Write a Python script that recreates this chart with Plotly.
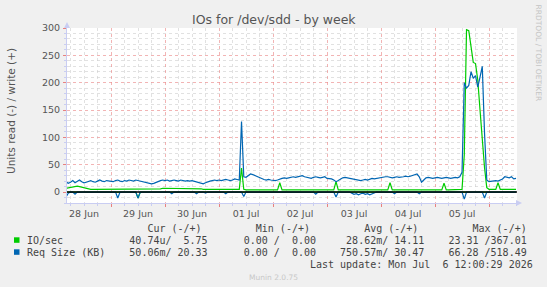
import plotly.graph_objects as go
import pandas as pd

# ---------------- DATA (hourly samples, starting 28 Jun 2026 04:00) ----------------
start_time = "2026-06-28 04:00"

# IO/sec write (+), green
io_write = [
    7, 8, 8, 9, 10, 11, 10, 9, 7, 6, 6, 5, 5, 5, 5, 5, 5, 5, 5, 5,                    # 28 Jun 04-23
    5, 5, 5, 5, 5, 5, 5, 5, 5, 5, 5, 5, 5, 5, 5, 5, 5, 5, 5, 5, 6, 6, 6, 7,            # 29 Jun
    7, 7, 7, 7, 7, 7, 7, 7, 7, 7, 7, 6, 6, 6, 6, 6, 6, 5, 5, 5, 5, 5, 5, 5,            # 30 Jun
    5, 5, 5, 5, 5, 5, 5, 5, 5, 5, 44, 5, 4, 4, 4, 4, 4, 4, 4, 4, 4, 4, 4, 4,           # 01 Jul
    4, 4, 4, 17, 4, 4, 4, 4, 4, 4, 4, 4, 4, 4, 4, 4, 4, 4, 4, 4, 4, 4, 4, 4,           # 02 Jul
    4, 4, 4, 4, 19, 4, 4, 4, 4, 4, 4, 4, 4, 4, 4, 4, 4, 4, 4, 4, 4, 4, 4, 4,           # 03 Jul
    4, 4, 4, 4, 17, 4, 4, 4, 4, 4, 4, 4, 4, 4, 4, 4, 4, 4, 4, 4, 4, 4, 4, 4,           # 04 Jul
    4, 4, 4, 4, 16, 4, 4, 4, 4, 4, 4, 4, 5, 68, 297, 295, 262, 237, 235, 205, 150, 95, 45, 8,  # 05 Jul
    5, 5, 5, 5, 17, 5, 5, 5, 5, 5, 5, 5, 5,                                            # 06 Jul 00-12
]
# IO/sec read (-), green (stored as magnitude)
io_read = [
    0, 0, 0, 0, 0, 0, 0, 0, 0, 0, 0, 0, 0, 0, 0, 0, 0, 0, 0, 0,
    0, 0, 0, 0, 0, 0, 0, 0, 0, 0, 0, 0, 11, 0, 0, 0, 0, 0, 0, 0, 0, 0, 0, 0,
    0, 0, 0, 0, 0, 0, 0, 0, 0, 0, 0, 0, 0, 0, 0, 0, 0, 0, 0, 0, 0, 0, 0, 0,
    0, 0, 0, 0, 0, 0, 0, 0, 0, 0, 0, 0, 0, 0, 0, 0, 0, 0, 0, 0, 0, 0, 0, 0,
    0, 0, 0, 0, 0, 0, 0, 0, 0, 0, 0, 0, 0, 0, 0, 0, 0, 0, 0, 0, 0, 0, 0, 0,
    0, 0, 0, 0, 0, 0, 0, 0, 0, 0, 0, 0, 0, 0, 0, 0, 0, 0, 0, 0, 0, 0, 0, 0,
    0, 0, 0, 0, 0, 0, 0, 0, 0, 0, 0, 0, 0, 0, 0, 0, 0, 0, 0, 0, 0, 0, 0, 0,
    0, 0, 0, 0, 0, 0, 0, 0, 0, 0, 0, 0, 0, 0, 0, 0, 0, 0, 0, 0, 0, 0, 0, 0,
    0, 0, 0, 0, 0, 0, 0, 0, 0, 0, 0, 0, 0,
]
# Req Size (KB) write (+), blue
sz_write = [
    19, 16, 18, 21, 17, 20, 22, 19, 17, 18, 20, 21, 19, 18, 20, 22, 20, 19, 21, 20,
    20, 19, 21, 22, 20, 19, 21, 20, 22, 21, 20, 22, 21, 20, 19, 17, 16, 15, 15, 16, 18, 20, 21, 22,
    21, 22, 20, 21, 22, 21, 20, 22, 21, 20, 21, 20, 21, 20, 19, 18, 16, 15, 17, 19, 20, 21, 22, 21,
    22, 21, 22, 23, 22, 21, 22, 24, 23, 22, 129, 28, 27, 30, 33, 32, 30, 28, 26, 24, 23, 22, 23, 22,
    21, 21, 22, 24, 25, 26, 25, 26, 27, 28, 27, 28, 29, 30, 28, 27, 26, 25, 27, 28, 27, 26, 27, 28,
    25, 25, 24, 22, 19, 21, 24, 26, 27, 26, 25, 24, 23, 22, 22, 21, 22, 23, 22, 24, 25, 24, 25, 26,
    26, 27, 28, 28, 27, 26, 27, 28, 27, 27, 28, 29, 28, 29, 30, 31, 33, 28, 18, 22, 26, 27, 26, 25,
    26, 27, 26, 25, 26, 27, 26, 25, 26, 27, 26, 28, 36, 200, 190, 195, 220, 208, 213, 192, 210, 230, 108, 22,
    19, 20, 20, 21, 20, 22, 24, 28, 27, 26, 28, 24, 25,
]
# Req Size (KB) read (-), blue (stored as magnitude)
sz_read = [
    9, 2, 0, 0, 4, 0, 0, 0, 0, 0, 0, 0, 0, 0, 0, 0, 0, 0, 0, 0,
    0, 0, 0, 11, 0, 0, 0, 0, 0, 0, 0, 0, 11, 0, 0, 0, 0, 0, 0, 0, 0, 0, 0, 0,
    0, 0, 0, 3, 0, 0, 0, 0, 0, 0, 0, 0, 0, 0, 3, 0, 0, 0, 2, 0, 0, 0, 0, 0,
    0, 0, 0, 3, 0, 0, 0, 0, 0, 0, 0, 8, 0, 0, 0, 0, 0, 0, 0, 0, 0, 0, 0, 0,
    0, 0, 0, 0, 0, 0, 0, 0, 0, 0, 0, 0, 0, 0, 0, 0, 0, 0, 0, 4, 0, 0, 0, 0,
    0, 0, 0, 0, 9, 0, 0, 0, 0, 0, 0, 2, 4, 3, 5, 3, 2, 4, 3, 5, 3, 2, 0, 0,
    0, 0, 0, 0, 0, 0, 3, 0, 0, 0, 0, 0, 0, 0, 0, 0, 0, 3, 0, 0, 0, 0, 0, 0,
    0, 0, 0, 0, 0, 0, 0, 0, 0, 0, 0, 0, 0, 13, 0, 0, 0, 0, 0, 0, 0, 0, 11, 0,
    0, 0, 0, 0, 0, 0, 0, 0, 0, 0, 0, 0, 0,
]

series_names = ["IO/sec", "Req Size (KB)"]
series_colors = ["#00CC00", "#0066B3"]
stat_headers = ["Cur (-/+)", "Min (-/+)", "Avg (-/+)", "Max (-/+)"]
stats_io = ["40.74u/  5.75", "0.00 /  0.00", "28.62m/ 14.11", "23.31 /367.01"]
stats_sz = ["50.06m/ 20.33", "0.00 /  0.00", "750.57m/ 30.47", "66.28 /518.49"]
last_update = "Last update: Mon Jul  6 12:00:29 2026"

day_labels = ["28 Jun", "29 Jun", "30 Jun", "01 Jul", "02 Jul", "03 Jul", "04 Jul", "05 Jul"]
day_label_pos = ["2026-06-28 12:00", "2026-06-29 12:00", "2026-06-30 12:00", "2026-07-01 12:00",
                 "2026-07-02 12:00", "2026-07-03 12:00", "2026-07-04 12:00", "2026-07-05 12:00"]
x_range = ["2026-06-28 04:26", "2026-07-06 12:26"]

# ---------------- LAYOUT GEOMETRY ----------------
W, H = 547, 287
L, R, T, B = 67, 30, 28, 84
PW, PH = W - L - R, H - T - B


def fx(px):
    return (px - L) / PW


def fy(py):
    return (H - B - py) / PH


times = pd.date_range(start_time, periods=len(io_write), freq="h")

fig = go.Figure()
neg = lambda a: [-v for v in a]
for name, color, pos, negv in [
    (series_names[0], series_colors[0], io_write, io_read),
    (series_names[1], series_colors[1], sz_write, sz_read),
]:
    fig.add_trace(go.Scatter(x=times, y=neg(negv), mode="lines", line=dict(color=color, width=1.2),
                             showlegend=False, hoverinfo="skip"))
    fig.add_trace(go.Scatter(x=times, y=pos, mode="lines", line=dict(color=color, width=1.2),
                             showlegend=False, hoverinfo="skip"))

# dummy trace for label axis
fig.add_trace(go.Scatter(x=day_label_pos, y=[None] * len(day_label_pos), xaxis="x2",
                         mode="lines", showlegend=False, hoverinfo="skip"))

AXIS_COL = "#C9CDF2"
MAJ_GRID = "rgba(235,140,140,0.65)"
MIN_GRID = "rgba(205,205,205,0.6)"
TXT = "#555555"
FONT = "DejaVu Sans"
MONO = "DejaVu Sans Mono"

fig.update_layout(
    width=W, height=H,
    margin=dict(l=L, r=R, t=T, b=B, pad=0),
    paper_bgcolor="#F0F0F0",
    plot_bgcolor="#FFFFFF",
    font=dict(family=FONT, size=10, color=TXT),
    xaxis=dict(
        type="date", range=x_range, tick0="2026-06-28", dtick=86400000,
        showticklabels=False, showgrid=True, gridcolor=MAJ_GRID, griddash="dot", gridwidth=1,
        ticks="outside", ticklen=3, tickcolor="#E88080",
        showline=True, linecolor=AXIS_COL, linewidth=1, zeroline=False,
        minor=dict(tick0="2026-06-28", dtick=6 * 3600000, showgrid=True, gridcolor=MIN_GRID,
                   griddash="dot", gridwidth=1, ticks="outside", ticklen=2, tickcolor=AXIS_COL),
    ),
    xaxis2=dict(
        type="date", overlaying="x", anchor="y", side="bottom", range=x_range,
        tickmode="array", tickvals=day_label_pos, ticktext=day_labels,
        showgrid=False, ticks="", showline=False, zeroline=False,
        tickfont=dict(family=FONT, size=9.5, color=TXT), ticklabelstandoff=3,
    ),
    yaxis=dict(
        range=[-20, 300], tick0=0, dtick=50,
        showgrid=True, gridcolor=MAJ_GRID, griddash="dot", gridwidth=1,
        ticks="outside", ticklen=3, tickcolor="#E88080",
        showline=True, linecolor=AXIS_COL, linewidth=1, zeroline=False,
        tickfont=dict(family=FONT, size=9.5, color=TXT), ticklabelstandoff=1,
        minor=dict(tick0=0, dtick=10, showgrid=True, gridcolor=MIN_GRID, griddash="dot",
                   gridwidth=1, ticks="outside", ticklen=2, tickcolor=AXIS_COL),
    ),
)

shapes = [
    # black zero line on top
    dict(type="line", xref="paper", yref="y", x0=0, x1=1, y0=0, y1=0,
         line=dict(color="#000000", width=1.5), layer="above"),
    # axis arrows
    dict(type="path", xref="paper", yref="paper",
         path=f"M {fx(516)} {fy(200)} L {fx(522)} {fy(203)} L {fx(516)} {fy(206)} Z",
         fillcolor=AXIS_COL, line=dict(width=0)),
    dict(type="path", xref="paper", yref="paper",
         path=f"M {fx(64)} {fy(28)} L {fx(67)} {fy(22)} L {fx(70)} {fy(28)} Z",
         fillcolor=AXIS_COL, line=dict(width=0)),
]
# legend colour boxes
for i, c in enumerate(series_colors):
    y0 = 237.3 + i * 12
    shapes.append(dict(type="rect", xref="paper", yref="paper",
                       x0=fx(14), x1=fx(19.5), y0=fy(y0), y1=fy(y0 + 5.5),
                       fillcolor=c, line=dict(width=0)))
fig.update_layout(shapes=shapes)

nb = lambda s: s.replace(" ", "\u00a0")
header = " " * 20 + "".join(h.ljust(18) for h in stat_headers[:3]) + stat_headers[3]
row1 = series_names[0].ljust(17) + stats_io[0].ljust(19) + stats_io[1].ljust(17) + stats_io[2].ljust(17) + stats_io[3]
row2 = series_names[1].ljust(17) + stats_sz[0].ljust(19) + stats_sz[1].ljust(16) + stats_sz[2].ljust(18) + stats_sz[3]
row3 = " " * 47 + last_update

ann = []
for text, py in [(header, 228.3), (row1, 240.5), (row2, 252.3), (row3, 264.5)]:
    ann.append(dict(text=nb(text), x=fx(25), y=fy(py), xref="paper", yref="paper",
                    xanchor="left", yanchor="middle", showarrow=False,
                    font=dict(family=MONO, size=10, color="#444444")))
ann += [
    dict(text="IOs for /dev/sdd - by week", x=fx(274), y=fy(19), xref="paper", yref="paper",
         xanchor="center", yanchor="middle", showarrow=False,
         font=dict(family=FONT, size=12.5, color=TXT)),
    dict(text="Units read (-) / write (+)", x=fx(11), y=fy(111), xref="paper", yref="paper",
         xanchor="center", yanchor="middle", showarrow=False, textangle=-90,
         font=dict(family=FONT, size=10.5, color=TXT)),
    dict(text="RRDTOOL / TOBI OETIKER", x=fx(538.5), y=fy(53), xref="paper", yref="paper",
         xanchor="center", yanchor="middle", showarrow=False, textangle=90,
         font=dict(family=FONT, size=7.5, color="#C4C4C4")),
    dict(text="Munin 2.0.75", x=fx(273), y=fy(277), xref="paper", yref="paper",
         xanchor="center", yanchor="middle", showarrow=False,
         font=dict(family=FONT, size=7.5, color="#C8C8C8")),
]
fig.update_layout(annotations=ann)

fig.write_html("out.html")
